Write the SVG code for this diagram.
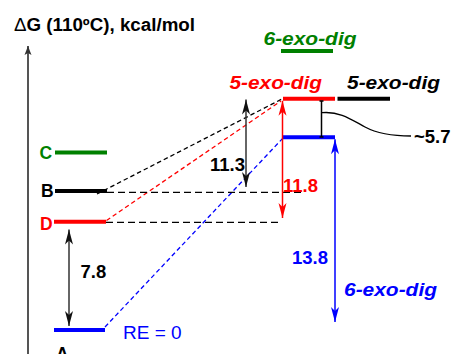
<svg xmlns="http://www.w3.org/2000/svg" width="455" height="354" viewBox="0 0 455 354">
<style>
text{font-family:"Liberation Sans",Arial,sans-serif;}
.b{font-weight:bold;}
.bi{font-weight:bold;font-style:italic;}
.lvl{stroke-width:4;fill:none;}
.dash{stroke-width:1.3;fill:none;stroke-dasharray:4.5,3;}
.hd{stroke:#000;stroke-width:1.3;fill:none;stroke-dasharray:7,4;}
.arr{stroke-width:1.5;fill:none;}
</style>
<defs>
<marker id="ahK" viewBox="-16 -5 17 10" refX="0" refY="0" markerWidth="17" markerHeight="10" markerUnits="userSpaceOnUse" orient="auto-start-reverse"><path d="M0,0 L-15,-4 L-11,0 L-15,4 Z" fill="#111"/></marker>
<marker id="ahR" viewBox="-16 -5 17 10" refX="0" refY="0" markerWidth="17" markerHeight="10" markerUnits="userSpaceOnUse" orient="auto-start-reverse"><path d="M0,0 L-15,-4 L-11,0 L-15,4 Z" fill="#ff0000"/></marker>
<marker id="ahB" viewBox="-16 -5 17 10" refX="0" refY="0" markerWidth="17" markerHeight="10" markerUnits="userSpaceOnUse" orient="auto-start-reverse"><path d="M0,0 L-15,-4 L-11,0 L-15,4 Z" fill="#0000ff"/></marker>
<marker id="ahA" viewBox="-10 -4 11 8" refX="0" refY="0" markerWidth="11" markerHeight="8" markerUnits="userSpaceOnUse" orient="auto"><path d="M0,0 L-9,-3.5 L-7,0 L-9,3.5 Z" fill="#333"/></marker>
</defs>

<g id="axis">
<line x1="28" y1="354" x2="28" y2="46" stroke="#555" stroke-width="2" marker-end="url(#ahA)"/>
<text x="14" y="30.5" class="b" font-size="18" textLength="181" lengthAdjust="spacingAndGlyphs"><tspan font-weight="normal">Δ</tspan>G (110ºC), kcal/mol</text>
</g>

<g id="level-C">
<line class="lvl" x1="55" y1="152.5" x2="107" y2="152.5" stroke="#008000"/>
<text x="39.5" y="158.8" class="b" font-size="17.5" fill="#008000">C</text>
</g>
<g id="level-B">
<line class="lvl" x1="55" y1="191" x2="107" y2="191" stroke="#000"/>
<text x="41" y="197" class="b" font-size="17.5" fill="#000">B</text>
</g>
<g id="level-D">
<line class="lvl" x1="54" y1="221.7" x2="106" y2="221.7" stroke="#ff0000"/>
<text x="40" y="229.5" class="b" font-size="17.5" fill="#ff0000">D</text>
</g>
<g id="level-A">
<line class="lvl" x1="54" y1="330" x2="105" y2="330" stroke="#0000ff"/>
<text x="56" y="359.5" class="b" font-size="17.5" fill="#000">A</text>
<text x="123" y="338.5" font-size="19" fill="#0000ff">RE = 0</text>
</g>

<g id="ts-6exo-green">
<line class="lvl" x1="281" y1="51" x2="333" y2="51" stroke="#008000"/>
<text x="263.5" y="45" class="bi" font-size="18" fill="#008000" textLength="93" lengthAdjust="spacingAndGlyphs">6-exo-dig</text>
</g>
<g id="ts-5exo-red">
<line class="lvl" x1="283" y1="98.7" x2="335" y2="98.7" stroke="#ff0000"/>
<text x="229.5" y="89" class="bi" font-size="18" fill="#ff0000" textLength="92.5" lengthAdjust="spacingAndGlyphs">5-exo-dig</text>
</g>
<g id="ts-5exo-black">
<line class="lvl" x1="337.5" y1="98.7" x2="390" y2="98.7" stroke="#000"/>
<text x="347" y="89" class="bi" font-size="18" fill="#000" textLength="93" lengthAdjust="spacingAndGlyphs">5-exo-dig</text>
</g>
<g id="ts-6exo-blue">
<line class="lvl" x1="283" y1="137.3" x2="335" y2="137.3" stroke="#0000ff"/>
<text x="344" y="296" class="bi" font-size="18" fill="#0000ff" textLength="93" lengthAdjust="spacingAndGlyphs">6-exo-dig</text>
</g>

<g id="connectors">
<line class="dash" x1="97" y1="194" x2="282" y2="99" stroke="#000"/>
<line class="dash" x1="106.5" y1="220.5" x2="281" y2="101" stroke="#ff0000"/>
<line class="dash" x1="105" y1="327" x2="283" y2="138" stroke="#0000ff"/>
<line class="hd" x1="107" y1="192.3" x2="303" y2="192.3"/>
<line class="hd" x1="106" y1="222.3" x2="282" y2="222.3" stroke-dasharray="8,5"/>

<line class="arr" x1="69" y1="229.5" x2="69" y2="326" stroke="#333" marker-start="url(#ahK)" marker-end="url(#ahK)"/>
<line class="arr" x1="246" y1="99.5" x2="246" y2="187" stroke="#333" marker-start="url(#ahK)" marker-end="url(#ahK)"/>
<line class="arr" x1="282.5" y1="100.8" x2="282.5" y2="218" stroke="#ff0000" marker-start="url(#ahR)" marker-end="url(#ahR)"/>
<line class="arr" x1="335" y1="139.3" x2="335" y2="322" stroke="#0000ff" marker-start="url(#ahB)" marker-end="url(#ahB)"/>

<path d="M321.5,101 V137 M319.5,101 H323.5 M319.5,137 H323.5" stroke="#000" stroke-width="1.5" fill="none"/>
<path d="M322,112.7 C340,111 352,120 365,127 S395,136 411,136" stroke="#000" stroke-width="1.3" fill="none"/>
</g>

<g id="values">
<text x="80.5" y="278" class="b" font-size="18.5" fill="#000">7.8</text>
<text x="210" y="170.5" class="b" font-size="18.5" fill="#000">11.3</text>
<text x="283" y="191.5" class="b" font-size="18.5" fill="#ff0000">11.8</text>
<text x="292" y="263.5" class="b" font-size="18.5" fill="#0000ff">13.8</text>
<text x="414" y="143" class="b" font-size="18.5" fill="#000">~5.7</text>
</g>
</svg>
